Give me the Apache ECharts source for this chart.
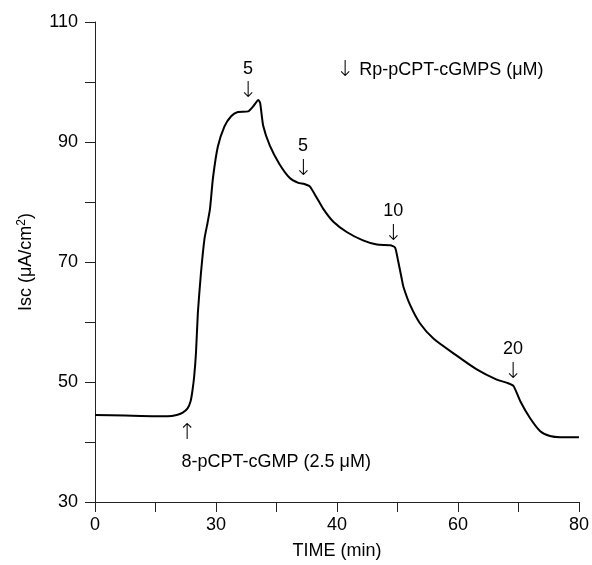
<!DOCTYPE html>
<html>
<head>
<meta charset="utf-8">
<script src="https://cdn.jsdelivr.net/npm/echarts@6/dist/echarts.min.js"></script>
<style>
html,body{margin:0;padding:0;background:#fff;}
#chart{width:592px;height:565px;}
</style>
</head>
<body>
<div id="chart"></div>
<script>
// Time (min)
const timeMin = [0,5,10,12,13.5,14.5,15.3,15.8,16.1,16.4,16.7,17.0,17.5,18.1,18.6,19.0,19.5,20.3,21.4,22.5,23.6,25.3,26.2,27.0,27.3,27.8,28.9,30.5,32.2,33.6,34.6,35.5,36.6,37.7,39.4,41.6,44.3,46.6,48.8,49.6,50.1,50.7,51.0,52.1,53.7,55.9,59.5,63.1,66.4,68.3,69.2,70.3,71.9,73.6,75.2,76.9,80];
// Isc (µA/cm²)
const iscValues = [44.5,44.4,44.3,44.3,44.5,44.9,45.6,46.8,48.5,51,55,61.5,68,73.9,76.5,78.8,84,89.2,92.6,94.3,95.0,95.1,96.0,97.0,96.5,92.7,89.4,86.3,84.0,83.2,83.0,82.6,80.8,78.9,76.7,75.0,73.6,72.9,72.8,72.4,70.2,67.2,65.8,62.8,59.8,57.3,54.6,52.1,50.4,49.8,49.3,46.8,44.0,41.8,41.0,40.8,40.8];
// X tick labels (as printed in the original figure)
const xTickValues = [0,20,40,60,80];
const xTickLabels = ['0','30','40','60','80'];
const yTickLabels = [30,50,70,90,110];
// Annotations: [time, value, text, align]
const annotations = [
  [25.3, 102.2, '5', 'center'],
  [25.3, 98.4, '{a|↓}', 'center'],
  [39.8, 102.0, '{a|↓} Rp-pCPT-cGMPS (μM)', 'left'],
  [34.4, 89.3, '5', 'center'],
  [34.4, 85.4, '{a|↓}', 'center'],
  [49.3, 78.5, '10', 'center'],
  [49.3, 74.6, '{a|↓}', 'center'],
  [69.1, 55.5, '20', 'center'],
  [69.1, 51.7, '{a|↓}', 'center'],
  [15.2, 41.5, '{a|↑}', 'center'],
  [14.3, 36.6, '8-pCPT-cGMP (2.5 μM)', 'left']
];

const FONT = 'Liberation Sans, Arial, sans-serif';
const chart = echarts.init(document.getElementById('chart'));
chart.setOption({
  animation: false,
  backgroundColor: '#fff',
  grid: {left: 95, right: 13, top: 22, bottom: 60},
  xAxis: {
    type: 'value', min: 0, max: 80, interval: 10,
    name: 'TIME (min)', nameLocation: 'middle', nameGap: 40,
    nameTextStyle: {fontFamily: FONT, fontSize: 18, color: '#000'},
    axisLine: {show: true, onZero: false, lineStyle: {color: '#222', width: 1}},
    axisTick: {show: true, inside: false, length: 10, lineStyle: {color: '#222'}},
    splitLine: {show: false},
    axisLabel: {
      fontFamily: FONT, fontSize: 18, color: '#000', margin: 14,
      formatter: v => { const i = xTickValues.indexOf(v); return i >= 0 ? xTickLabels[i] : ''; }
    }
  },
  yAxis: {
    type: 'value', min: 30, max: 110, interval: 10,
    name: 'Isc (μA/cm{sup|2})', nameLocation: 'middle', nameGap: 58, nameRotate: 90,
    nameTextStyle: {
      fontFamily: FONT, fontSize: 18, color: '#000',
      rich: {sup: {fontFamily: FONT, fontSize: 12, color: '#000', verticalAlign: 'bottom', padding: [0, 0, 9, 0]}}
    },
    axisLine: {show: true, lineStyle: {color: '#222', width: 1}},
    axisTick: {show: true, inside: false, length: 10, lineStyle: {color: '#222'}},
    splitLine: {show: false},
    axisLabel: {
      fontFamily: FONT, fontSize: 18, color: '#000', margin: 17,
      formatter: v => yTickLabels.indexOf(v) >= 0 ? String(v) : ''
    }
  },
  series: [
    {
      type: 'line',
      data: timeMin.map((t, i) => [t, iscValues[i]]),
      showSymbol: false, symbol: 'none',
      smooth: 0.2,
      lineStyle: {color: '#000', width: 2},
      silent: true
    },
    {
      type: 'scatter',
      symbolSize: 0,
      silent: true,
      itemStyle: {opacity: 1},
      data: annotations.map(a => ({value: [a[0], a[1]], name: a[2], label: {align: a[3]}})),
      label: {
        show: true, position: 'inside',
        formatter: p => p.name,
        fontFamily: FONT, fontSize: 18, color: '#000',
        verticalAlign: 'middle',
        rich: {
          a: {fontFamily: 'DejaVu Sans', fontSize: 22, color: '#000', fontWeight: 'lighter'}
        }
      }
    }
  ]
});
</script>
</body>
</html>
